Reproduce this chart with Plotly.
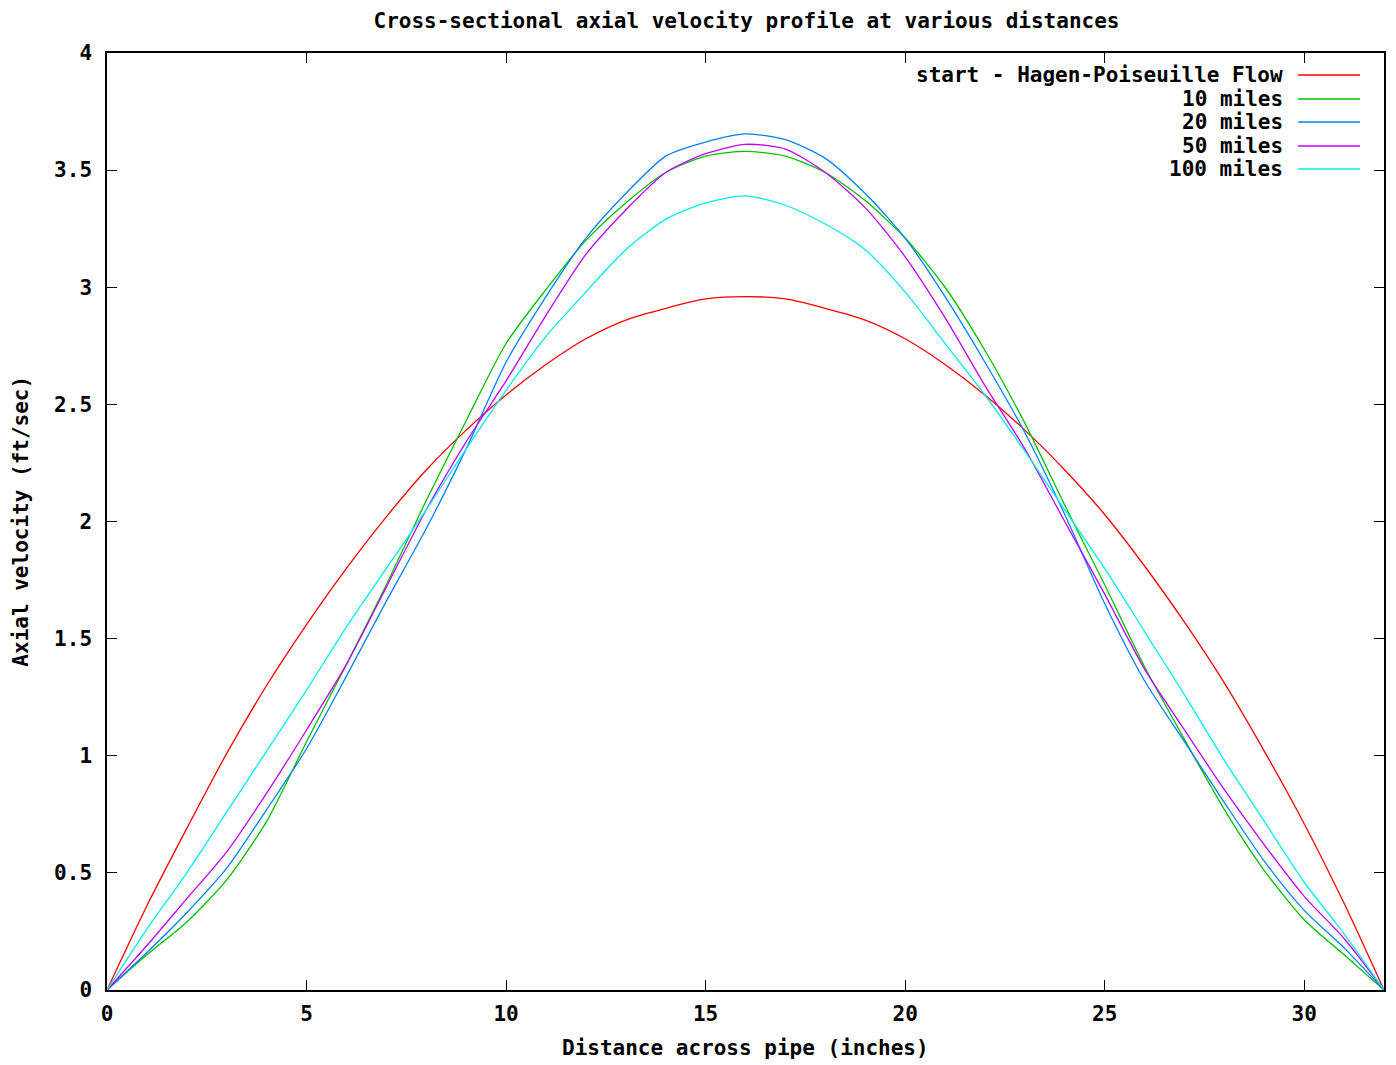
import plotly.graph_objects as go

# Distance across pipe (inches)
distance = list(range(0, 33))

# Axial velocity (ft/sec) for each profile
start_hp = [0.00, 0.36, 0.69, 1.01, 1.30, 1.56, 1.80, 2.02, 2.22, 2.39, 2.54,
            2.67, 2.78, 2.86, 2.91, 2.95, 2.96, 2.95, 2.91, 2.86, 2.78, 2.67,
            2.54, 2.39, 2.22, 2.03, 1.81, 1.57, 1.31, 1.02, 0.71, 0.37, 0.00]
miles_10 = [0.00, 0.15, 0.29, 0.47, 0.72, 1.06, 1.39, 1.73, 2.09, 2.43, 2.76,
            2.99, 3.20, 3.36, 3.49, 3.56, 3.58, 3.56, 3.49, 3.37, 3.21, 3.00,
            2.73, 2.42, 2.07, 1.73, 1.38, 1.07, 0.77, 0.51, 0.30, 0.15, 0.00]
miles_20 = [0.00, 0.16, 0.33, 0.52, 0.77, 1.03, 1.34, 1.66, 1.97, 2.31, 2.68,
            2.96, 3.21, 3.40, 3.56, 3.62, 3.655, 3.63, 3.55, 3.40, 3.21, 2.96,
            2.68, 2.38, 2.03, 1.65, 1.32, 1.06, 0.80, 0.55, 0.34, 0.18, 0.00]
miles_50 = [0.00, 0.19, 0.39, 0.59, 0.84, 1.11, 1.39, 1.72, 2.05, 2.34, 2.60,
            2.88, 3.14, 3.33, 3.49, 3.57, 3.61, 3.59, 3.49, 3.34, 3.13, 2.87,
            2.58, 2.31, 2.00, 1.69, 1.37, 1.11, 0.855, 0.62, 0.40, 0.22, 0.00]
miles_100 = [0.00, 0.26, 0.50, 0.76, 1.02, 1.28, 1.55, 1.80, 2.05, 2.31, 2.56,
             2.79, 2.98, 3.16, 3.29, 3.36, 3.39, 3.35, 3.27, 3.16, 2.98, 2.76,
             2.54, 2.30, 2.05, 1.80, 1.53, 1.26, 0.98, 0.72, 0.46, 0.24, 0.00]

series_names = ["start - Hagen-Poiseuille Flow", "10 miles", "20 miles",
                "50 miles", "100 miles"]
series_values = [start_hp, miles_10, miles_20, miles_50, miles_100]
series_colors = ["#ff0000", "#00c000", "#0080ff", "#c000ff", "#00eeee"]

x_ticks = [0, 5, 10, 15, 20, 25, 30]
y_ticks = [0, 0.5, 1, 1.5, 2, 2.5, 3, 3.5, 4]
y_tick_labels = ["0", "0.5", "1", "1.5", "2", "2.5", "3", "3.5", "4"]

FONT = dict(family="DejaVu Sans Mono", size=21, color="#000000", weight="bold")
TITLE_FONT = dict(family="DejaVu Sans Mono", size=21, color="#000000",
                  weight="bold")

# page body has an 8px margin; target pixel positions are page coordinates
OFF = 8
W, H = 1388, 1057
L, R, T, B = 107 - OFF, W - (1386 - OFF), 53 - OFF, H - (990 - OFF)
pw, ph = W - L - R, H - T - B

def px_x(p):
    return (p - OFF - L) / pw

def px_y(p):
    return (H - B - (p - OFF)) / ph

fig = go.Figure()
for name, vals, col in zip(series_names, series_values, series_colors):
    fig.add_trace(go.Scatter(x=distance, y=vals, mode="lines", name=name,
                             line=dict(color=col, width=1.3, shape="spline",
                                       smoothing=0.7),
                             showlegend=False))

# gnuplot-style key: right-aligned text followed by line sample
annotations = []
shapes = []
row_y = [75, 99, 122, 146, 169]
for i, (name, col) in enumerate(zip(series_names, series_colors)):
    yp = px_y(row_y[i])
    annotations.append(dict(x=px_x(1287), y=yp, xref="paper", yref="paper",
                            text=name, showarrow=False, xanchor="right",
                            yanchor="middle", font=FONT))
    shapes.append(dict(type="line", xref="paper", yref="paper",
                       x0=px_x(1300), x1=px_x(1362), y0=yp, y1=yp,
                       line=dict(color=col, width=1.3)))

annotations.append(dict(x=0.5, y=px_y(1048), xref="paper", yref="paper",
                        text="Distance across pipe (inches)", showarrow=False,
                        xanchor="center", yanchor="middle", font=FONT))
annotations.append(dict(x=px_x(20), y=0.5, xref="paper", yref="paper",
                        text="Axial velocity (ft/sec)", showarrow=False,
                        textangle=-90, xanchor="center", yanchor="middle",
                        font=FONT))

axis_common = dict(showgrid=False, zeroline=False, showline=True,
                   linecolor="#000000", linewidth=1.5, mirror="allticks",
                   ticks="inside", ticklen=10, tickwidth=1.2,
                   tickcolor="#000000", tickfont=FONT)

fig.update_layout(
    width=W, height=H,
    margin=dict(l=L, r=R, t=T, b=B),
    paper_bgcolor="white", plot_bgcolor="white",
    title=dict(text="Cross-sectional axial velocity profile at various distances",
               x=(L + pw / 2) / W, xref="container",
               y=1 - (21 - OFF) / H, yref="container", xanchor="center",
               yanchor="middle", font=TITLE_FONT),
    xaxis=dict(range=[0, 32], tickvals=x_ticks, ticklabelstandoff=4,
               **axis_common),
    yaxis=dict(range=[0, 4], tickvals=y_ticks, ticktext=y_tick_labels,
               ticklabelstandoff=9, **axis_common),
    annotations=annotations,
    shapes=shapes,
    showlegend=False,
)

fig.write_html("out.html")
